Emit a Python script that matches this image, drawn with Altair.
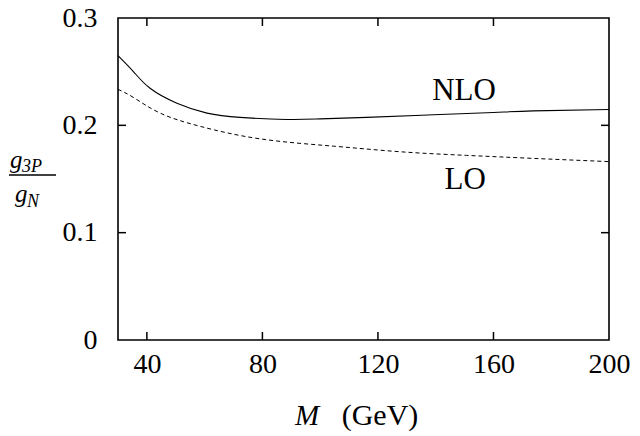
import altair as alt
import pandas as pd

# NLO curve (solid)
nlo_m = [30, 35.4, 41.1, 50.4, 60.8, 72.3, 88.4, 100, 116.1, 139.2, 160, 173.8, 200]
nlo_g = [0.265, 0.2499, 0.2345, 0.2206, 0.2114, 0.2074, 0.2055, 0.2060, 0.2074, 0.2098, 0.2120, 0.2135, 0.2148]
# LO curve (dashed)
lo_m = [30, 35.4, 44.6, 58.4, 79.2, 104.6, 127.6, 150.7, 173.8, 200]
lo_g = [0.2335, 0.2259, 0.2114, 0.1991, 0.1874, 0.1806, 0.1754, 0.1720, 0.1692, 0.1662]

x_ticks = [40, 80, 120, 160, 200]
y_ticks = [0, 0.1, 0.2, 0.3]
x_inner = [40, 80, 120, 160]
y_inner = [0.1, 0.2]

labels = ["NLO", "LO"]
label_m = [149.8, 150.2]
label_g = [0.2317, 0.1495]

FONT = "Liberation Serif"
X_MIN, X_MAX, Y_MIN, Y_MAX = 30, 200, 0, 0.3
W, H = 491, 322
TICK_PX = 8
tx = TICK_PX * (X_MAX - X_MIN) / W
ty = TICK_PX * (Y_MAX - Y_MIN) / H

xs = alt.Scale(domain=[X_MIN, X_MAX], nice=False, zero=False)
ys = alt.Scale(domain=[Y_MIN, Y_MAX], nice=False, zero=False)

xaxis = alt.Axis(values=x_ticks, format="d", title=None, grid=False, domain=False,
                 ticks=False, tickSize=0, labelFont=FONT, labelFontSize=28,
                 labelColor="black", labelPadding=10, labelFlush=False,
                 labelOverlap=False, labelBound=False)
yaxis = alt.Axis(values=y_ticks, format=".1~f", title=None, grid=False, domain=False,
                 ticks=False, tickSize=0, labelFont=FONT, labelFontSize=28,
                 labelColor="black", labelPadding=21, labelFlush=False,
                 labelOverlap=False, labelBound=False)

X = alt.X("m:Q", scale=xs, axis=xaxis)
Y = alt.Y("g:Q", scale=ys, axis=yaxis)

nlo_df = pd.DataFrame({"m": nlo_m, "g": nlo_g})
lo_df = pd.DataFrame({"m": lo_m, "g": lo_g})

nlo = alt.Chart(nlo_df).mark_line(color="black", strokeWidth=1.1, interpolate="natural").encode(x=X, y=Y)
lo = alt.Chart(lo_df).mark_line(color="black", strokeWidth=1.0, strokeDash=[4, 3],
                                interpolate="natural").encode(x=X, y=Y)

lab_df = pd.DataFrame({"m": label_m, "g": label_g, "t": labels})
lab = alt.Chart(lab_df).mark_text(font=FONT, fontSize=31, color="black",
                                  align="center", baseline="middle").encode(x=X, y=Y, text="t:N")

# inner ticks (mirrored, gnuplot style)
bt = pd.DataFrame({"m": x_inner, "g": [Y_MIN] * len(x_inner), "g2": [Y_MIN + ty] * len(x_inner)})
tt = pd.DataFrame({"m": x_inner, "g": [Y_MAX] * len(x_inner), "g2": [Y_MAX - ty] * len(x_inner)})
lt = pd.DataFrame({"g": y_inner, "m": [X_MIN] * len(y_inner), "m2": [X_MIN + tx] * len(y_inner)})
rt = pd.DataFrame({"g": y_inner, "m": [X_MAX] * len(y_inner), "m2": [X_MAX - tx] * len(y_inner)})

vt = alt.layer(
    alt.Chart(bt).mark_rule(color="black", strokeWidth=1.5).encode(x=X, y=Y, y2="g2:Q"),
    alt.Chart(tt).mark_rule(color="black", strokeWidth=1.5).encode(x=X, y=Y, y2="g2:Q"),
)
ht = alt.layer(
    alt.Chart(lt).mark_rule(color="black", strokeWidth=1.5).encode(x=X, x2="m2:Q", y=Y),
    alt.Chart(rt).mark_rule(color="black", strokeWidth=1.5).encode(x=X, x2="m2:Q", y=Y),
)

one = alt.Data(values=[{"a": 1}])

def txt(s, x, y, size, italic=True, align="left"):
    return alt.Chart(one).mark_text(text=s, font=FONT, fontSize=size, color="black",
                                    fontStyle="italic" if italic else "normal",
                                    align=align, baseline="alphabetic").encode(
        x=alt.value(x), y=alt.value(y))

# y-axis title: g_{3P} / g_N
ytitle = alt.layer(
    txt("g", -108, 150, 25),
    txt("3P", -96, 154, 18),
    alt.Chart(one).mark_rule(color="black", strokeWidth=1.3).encode(
        x=alt.value(-109), x2=alt.value(-62), y=alt.value(157)),
    txt("g", -103, 184, 25),
    txt("N", -91, 189, 18),
)

# x-axis title: M (GeV)
xtitle = alt.layer(
    txt("M", 177, 407, 29),
    txt("(GeV)", 262, 407, 30, italic=False, align="center"),
)

chart = alt.layer(nlo, lo, lab, vt, ht, ytitle, xtitle).properties(
    width=W, height=H,
    padding={"left": 110, "top": 10, "right": 23, "bottom": 91},
    autosize=alt.AutoSizeParams(type="none"),
    background="white",
).configure_view(stroke="black", strokeWidth=1.6)

chart.save("out.html", embed_options={"renderer": "svg", "actions": False})
